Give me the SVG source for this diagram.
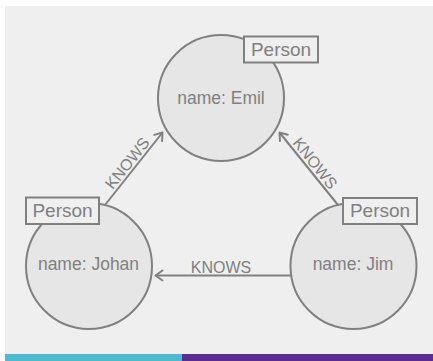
<svg xmlns="http://www.w3.org/2000/svg" width="433" height="361" viewBox="0 0 433 361">
<style>
.node{fill:#e6e6e6;stroke:#808080;stroke-width:2}
.lbl{fill:#efefef;stroke:#808080;stroke-width:2}
.t{font-family:"Liberation Sans",Arial,sans-serif;fill:#808080;text-anchor:middle}
.name{font-size:17.5px}
.person{font-size:19px}
.rel{font-size:16px}
.edge{stroke:#808080;stroke-width:2;fill:none}
</style>
<defs>
<marker id="arr" markerUnits="userSpaceOnUse" markerWidth="14" markerHeight="14" viewBox="-10 -7 12 14" refX="0" refY="0" orient="auto">
<path d="M-7,-5 L0,0 L-7,5" fill="none" stroke="#808080" stroke-width="2" stroke-linecap="round" stroke-linejoin="round"/>
</marker>
</defs>
<rect x="0" y="0" width="433" height="361" fill="#ffffff"/>
<rect x="5" y="6" width="428" height="348" fill="#efefef"/>
<rect x="5" y="354" width="177" height="7" fill="#4fb9d4"/>
<rect x="182" y="354" width="251" height="7" fill="#5c2d91"/>
<g id="connectors">
<line class="edge" x1="105" y1="205" x2="162.5" y2="132.5" marker-end="url(#arr)"/>
<text class="t rel" transform="translate(134,168.5) rotate(-51.5)" y="-3">KNOWS</text>
<line class="edge" x1="338" y1="205" x2="279.5" y2="132.5" marker-end="url(#arr)"/>
<text class="t rel" transform="translate(308.5,168.5) rotate(51.5)" y="-3">KNOWS</text>
<line class="edge" x1="291" y1="275.5" x2="155.5" y2="275.5" marker-end="url(#arr)"/>
<text class="t rel" x="221" y="272.5">KNOWS</text>
</g>
<g id="emil">
<circle class="node" cx="221" cy="98" r="63"/>
<text class="t name" x="221" y="104">name: Emil</text>
<rect class="lbl" x="244" y="36.5" width="74" height="26"/>
<text class="t person" x="281" y="56">Person</text>
</g>
<g id="johan">
<circle class="node" cx="89" cy="266" r="63"/>
<text class="t name" x="88.5" y="270">name: Johan</text>
<rect class="lbl" x="26" y="197.5" width="73" height="26.5"/>
<text class="t person" x="62.5" y="217.3">Person</text>
</g>
<g id="jim">
<circle class="node" cx="353.5" cy="266" r="63"/>
<text class="t name" x="353" y="270">name: Jim</text>
<rect class="lbl" x="343" y="198" width="74" height="26"/>
<text class="t person" x="380" y="217.3">Person</text>
</g>
</svg>
